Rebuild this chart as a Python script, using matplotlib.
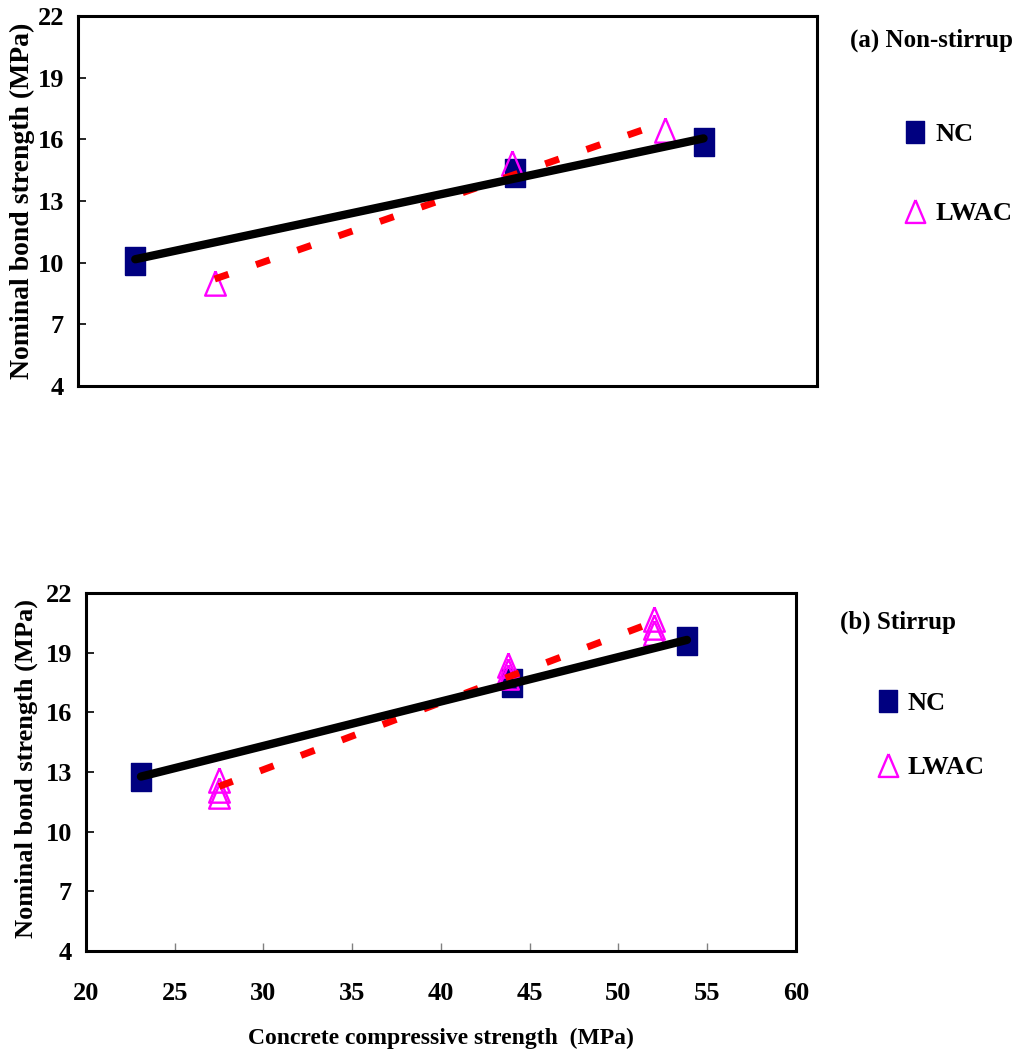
import numpy as np
import matplotlib
matplotlib.use("Agg")
from matplotlib import pyplot as plt
from matplotlib.lines import Line2D

plt.rcParams['font.family'] = ['Liberation Serif', 'DejaVu Serif']
plt.rcParams['font.weight'] = 'bold'

# ==== data: (a) non-stirrup ====
nc_fc_a = [23.1, 43.65, 53.86]
nc_bond_a = [10.08, 14.36, 15.87]
lw_fc_a = [27.4, 43.5, 51.8]
lw_bond_a = [9.0, 14.85, 16.45]

# ==== data: (b) stirrup ====
nc_fc_b = [23.1, 44.0, 53.86]
nc_bond_b = [12.75, 17.5, 19.6]
lw_fc_b = [27.5, 27.5, 27.5, 43.8, 43.8, 43.8, 52.0, 52.0, 52.0]
lw_bond_b = [12.6, 12.1, 11.8, 18.4, 18.1, 17.8, 20.7, 20.3, 20.0]

y_ticks = [4, 7, 10, 13, 16, 19, 22]
x_ticks = [20, 25, 30, 35, 40, 45, 50, 55, 60]

# tall rectangle and triangle marker shapes
RECT = [(-0.75, -1), (0.75, -1), (0.75, 1), (-0.75, 1), (-0.75, -1)]
TRI = [(0, 1), (-0.85, -1), (0.85, -1), (0, 1)]

NAVY = '#000080'
MAGENTA = '#ff00ff'


def trend(x, y):
    # least squares line drawn between min and max x
    k, b = np.polyfit(x, y, 1)
    xs = np.array([min(x), max(x)])
    return xs, k * xs + b


def draw_panel(ax, nc_x, nc_y, lw_x, lw_y, ylab_size):
    ax.plot(nc_x, nc_y, ls='none', marker=RECT, ms=20, mfc=NAVY, mec=NAVY, zorder=2)
    ax.plot(lw_x, lw_y, ls='none', marker=TRI, ms=17.5, mfc='none', mec=MAGENTA,
            mew=1.7, zorder=3)
    xs, ys = trend(lw_x, lw_y)
    ax.plot(xs, ys, color='red', lw=5, ls=(0, (2.1, 4.2)), dash_capstyle='butt', zorder=4)
    xs, ys = trend(nc_x, nc_y)
    ax.plot(xs, ys, color='black', lw=6, solid_capstyle='round', zorder=5)

    ax.set_xlim(20, 60)
    ax.set_ylim(4, 22)
    ax.set_yticks(y_ticks)
    ax.tick_params(axis='y', direction='in', length=6, width=1.2, pad=10, labelsize=19)
    for s in ax.spines.values():
        s.set_linewidth(2.2)
    ax.set_ylabel('Nominal bond strength (MPa)', fontsize=ylab_size, fontweight='bold')


def draw_legend(ax, title, tx, ty, lx, ly, spacing):
    fig.text(tx, ty, title, fontsize=18, fontweight='bold', va='center')
    handles = [Line2D([], [], ls='none', marker=RECT, ms=16.5, mfc=NAVY, mec=NAVY),
               Line2D([], [], ls='none', marker=TRI, ms=16.5, mfc='none', mec=MAGENTA, mew=1.7)]
    ax.legend(handles, ['NC', 'LWAC'], loc='upper left', bbox_to_anchor=(lx, ly),
              bbox_transform=fig.transFigure, frameon=False, fontsize=19,
              borderpad=0, borderaxespad=0, handlelength=1.0, handletextpad=0.25,
              labelspacing=spacing)


fig = plt.figure(figsize=(10.22, 10.55), dpi=100)

ax1 = fig.add_axes([0.0763, 0.6341, 0.7231, 0.3507])
draw_panel(ax1, nc_fc_a, nc_bond_a, lw_fc_a, lw_bond_a, 20)
ax1.set_xticks(x_ticks)
ax1.tick_params(axis='x', length=0, labelbottom=False)
ax1.yaxis.set_label_coords(-0.058, 0.5)
draw_legend(ax1, '(a) Non-stirrup', 0.832, 0.962, 0.8826, 0.8835, 2.1)

ax2 = fig.add_axes([0.0841, 0.0986, 0.6947, 0.3393])
draw_panel(ax2, nc_fc_b, nc_bond_b, lw_fc_b, lw_bond_b, 19)
ax2.set_xticks(x_ticks)
ax2.tick_params(axis='x', direction='in', length=6, width=1, color='gray',
                labelcolor='black', pad=22, labelsize=19)
ax2.set_xlabel('Concrete compressive strength  (MPa)', fontsize=17, fontweight='bold',
               labelpad=17)
ax2.yaxis.set_label_coords(-0.068, 0.51)
draw_legend(ax2, '(b) Stirrup', 0.822, 0.4104, 0.856, 0.3445, 1.55)

fig.savefig('out.png', dpi=100)
